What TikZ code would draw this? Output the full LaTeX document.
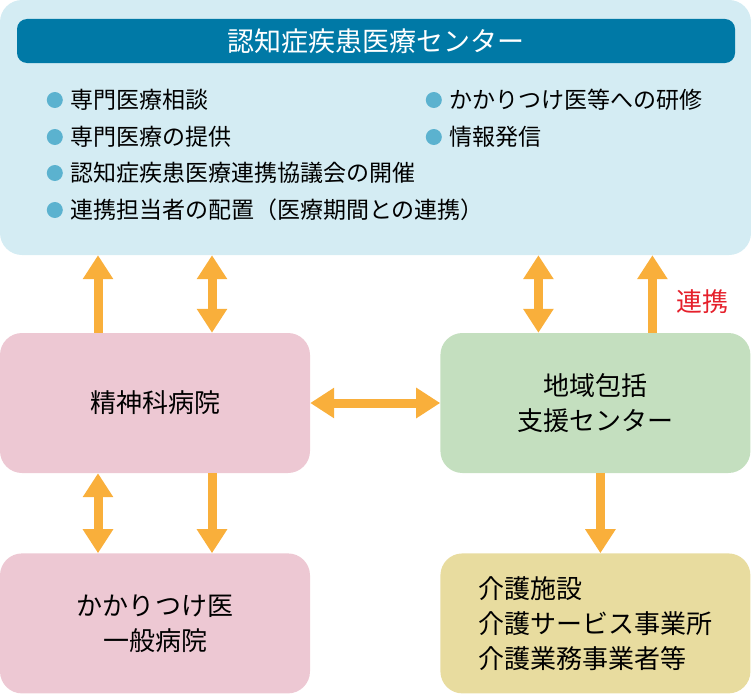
\documentclass[tikz,border=0pt]{standalone}
\usepackage{fontspec}
\setmainfont{Noto Sans CJK JP}
\usetikzlibrary{arrows.meta, positioning}
\definecolor{centerblue}{HTML}{D4ECF3}
\definecolor{headblue}{HTML}{0079A6}
\definecolor{dotblue}{HTML}{5BB2CF}
\definecolor{hosppink}{HTML}{EDC8D3}
\definecolor{caregreen}{HTML}{C4DFBF}
\definecolor{careyellow}{HTML}{E8DC9F}
\definecolor{linkorange}{HTML}{F9AF3B}
\definecolor{linkred}{HTML}{E5202B}

\begin{document}
\begin{tikzpicture}[x=1pt, y=-1pt,
        box/.style={rounded corners=22pt, minimum width=310pt, minimum height=140pt, align=center, inner sep=0pt, font=\fontsize{26}{35}\selectfont},
        link/.style={line width=9pt, linkorange, -{Triangle[length=24pt, width=29pt]}},
        both/.style={link, {Triangle[length=24pt, width=29pt]}-{Triangle[length=24pt, width=29pt]}},
        item/.style={anchor=west, inner sep=0pt, font=\fontsize{23}{23}\selectfont},
        dot/.style={circle, fill=dotblue, minimum size=16pt, inner sep=0pt}]
        \useasboundingbox (0,0) rectangle (751,693);

        % Center
        \node[fill=centerblue, rounded corners=22pt, minimum width=751pt, minimum height=255pt, inner sep=0pt] (center) at (375.5,127.5) {};
        \node[fill=headblue, rounded corners=10pt, minimum width=718pt, minimum height=44pt, inner sep=0pt, text=white, font=\fontsize{27}{27}\selectfont] (title) at (376,41) {認知症疾患医療センター};
        \foreach \x/\y/\t [count=\i] in {70/100/専門医療相談, 449/100/かかりつけ医等への研修, 70/137/専門医療の提供, 449/137/情報発信, 70/173/認知症疾患医療連携協議会の開催, 70/210/連携担当者の配置（医療期間との連携）} {
            \node[item] (item\i) at (\x,\y) {\t};
            \node[dot, left=7pt of item\i] (dot\i) {};
        }

        % Boxes
        \node[box, fill=hosppink] (psych) at (155,403) {精神科病院};
        \node[box, fill=caregreen, right=130pt of psych] (region) {地域包括\\支援センター};
        \node[box, fill=hosppink, below=80pt of psych] (clinic) {かかりつけ医\\一般病院};
        \node[box, fill=careyellow, align=left, below=80pt of region] (care) {介護施設\\介護サービス事業所\\介護業務事業者等};

        % Arrows
        \draw[link] ([xshift=-57pt]psych.north) -- ([xshift=-57pt]psych.north |- center.south);
        \draw[both] ([xshift=57pt]psych.north) -- ([xshift=57pt]psych.north |- center.south);
        \draw[both] ([xshift=-57pt]region.north) -- ([xshift=-57pt]region.north |- center.south);
        \draw[link] ([xshift=57pt]region.north) -- node[pos=0.4, right=20pt, inner sep=0pt, text=linkred, font=\fontsize{26}{26}\selectfont] (linklabel) {連携} ([xshift=57pt]region.north |- center.south);
        \draw[both] (psych) -- (region);
        \draw[both] ([xshift=-57pt]clinic.north) -- ([xshift=-57pt]psych.south);
        \draw[link] ([xshift=57pt]psych.south) -- ([xshift=57pt]clinic.north);
        \draw[link] ([xshift=5pt]region.south) -- ([xshift=5pt]care.north);
    \end{tikzpicture}
\end{document}
